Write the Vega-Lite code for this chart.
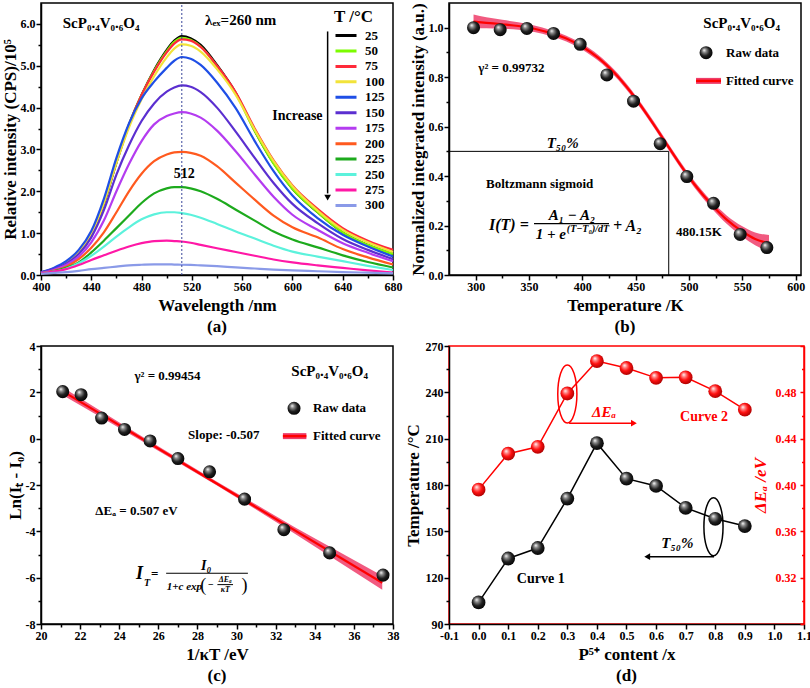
{
"$schema": "https://vega.github.io/schema/vega-lite/v6.json",
"padding": {"left": 0, "top": 1, "right": 0, "bottom": 0},
"background": "white",
"bounds": "flush",
"columns": 2,
"spacing": {"row": 71, "column": 56},
"config": {
 "font": "Liberation Serif",
 "view": {"stroke": "black", "strokeWidth": 1.5},
 "axis": {"grid": false, "domainColor": "black", "domainWidth": 1.5, "tickColor": "black", "tickWidth": 1.5, "labelFont": "Liberation Serif", "labelFontSize": 12, "labelFontWeight": "bold", "labelColor": "black", "labelPadding": 1, "labelFlush": false, "labelOverlap": false, "titleFont": "Liberation Serif", "titleFontSize": 17, "titleFontWeight": "bold", "titleColor": "black"},
 "axisX": {"titlePadding": 5},
 "axisY": {"titlePadding": 1},
 "text": {"font": "Liberation Serif", "fontWeight": "bold", "fontSize": 13, "baseline": "middle", "color": "black"},
 "title": {"font": "Liberation Serif", "fontSize": 17, "fontWeight": "bold", "color": "black"}
},
"concat": [
{
 "width": 352, "height": 272,
 "title": {"text": "(a)", "orient": "bottom", "frame": "group", "anchor": "middle", "baseline": "top", "offset": 6},
 "encoding": {
  "x": {"field": "x", "type": "quantitative", "scale": {"domain": [400, 680], "nice": false, "zero": false}, "axis": {"title": "Wavelength /nm", "values": [400,420,440,460,480,500,520,540,560,580,600,620,640,660,680], "labelExpr": "datum.value % 40 === 0 ? datum.label : ''", "tickSize": {"condition": {"test": "datum.value % 40 !== 0", "value": 3}, "value": 5}}},
  "y": {"field": "y", "type": "quantitative", "scale": {"domain": [0, 6.5], "nice": false, "zero": false}, "axis": {"title": "Relative intensity (CPS)/10⁵", "values": [0,0.5,1,1.5,2,2.5,3,3.5,4,4.5,5,5.5,6], "labelExpr": "datum.value % 1 === 0 ? format(datum.value, '.1f') : ''", "tickSize": {"condition": {"test": "datum.value % 1 !== 0", "value": 3}, "value": 5}}}
 },
 "layer": [
  {"data": {"values": [
{"T":"25","x":400,"y":0.06},{"T":"25","x":410,"y":0.15},{"T":"25","x":420,"y":0.29},{"T":"25","x":430,"y":0.54},{"T":"25","x":440,"y":0.97},{"T":"25","x":450,"y":1.7},{"T":"25","x":460,"y":2.68},{"T":"25","x":470,"y":3.58},{"T":"25","x":480,"y":4.3},{"T":"25","x":490,"y":4.9},{"T":"25","x":500,"y":5.38},{"T":"25","x":506,"y":5.6},{"T":"25","x":512,"y":5.71},{"T":"25","x":519,"y":5.66},{"T":"25","x":527,"y":5.5},{"T":"25","x":540,"y":5.02},{"T":"25","x":555,"y":4.35},{"T":"25","x":570,"y":3.45},{"T":"25","x":585,"y":2.67},{"T":"25","x":600,"y":2.06},{"T":"25","x":620,"y":1.5},{"T":"25","x":640,"y":1.02},{"T":"25","x":660,"y":0.72},{"T":"25","x":680,"y":0.5},
{"T":"50","x":400,"y":0.06},{"T":"50","x":410,"y":0.15},{"T":"50","x":420,"y":0.29},{"T":"50","x":430,"y":0.54},{"T":"50","x":440,"y":0.98},{"T":"50","x":450,"y":1.72},{"T":"50","x":460,"y":2.7},{"T":"50","x":470,"y":3.6},{"T":"50","x":480,"y":4.3},{"T":"50","x":490,"y":4.88},{"T":"50","x":500,"y":5.35},{"T":"50","x":506,"y":5.57},{"T":"50","x":512,"y":5.67},{"T":"50","x":519,"y":5.62},{"T":"50","x":527,"y":5.46},{"T":"50","x":540,"y":4.99},{"T":"50","x":555,"y":4.33},{"T":"50","x":570,"y":3.44},{"T":"50","x":585,"y":2.66},{"T":"50","x":600,"y":2.06},{"T":"50","x":620,"y":1.5},{"T":"50","x":640,"y":1.02},{"T":"50","x":660,"y":0.72},{"T":"50","x":680,"y":0.5},
{"T":"75","x":400,"y":0.06},{"T":"75","x":410,"y":0.15},{"T":"75","x":420,"y":0.3},{"T":"75","x":430,"y":0.55},{"T":"75","x":440,"y":1.0},{"T":"75","x":450,"y":1.74},{"T":"75","x":460,"y":2.72},{"T":"75","x":470,"y":3.6},{"T":"75","x":480,"y":4.3},{"T":"75","x":490,"y":4.86},{"T":"75","x":500,"y":5.32},{"T":"75","x":506,"y":5.53},{"T":"75","x":512,"y":5.63},{"T":"75","x":519,"y":5.6},{"T":"75","x":527,"y":5.45},{"T":"75","x":540,"y":5.0},{"T":"75","x":555,"y":4.36},{"T":"75","x":570,"y":3.5},{"T":"75","x":585,"y":2.74},{"T":"75","x":600,"y":2.14},{"T":"75","x":620,"y":1.58},{"T":"75","x":640,"y":1.12},{"T":"75","x":660,"y":0.82},{"T":"75","x":680,"y":0.6},
{"T":"100","x":400,"y":0.06},{"T":"100","x":410,"y":0.15},{"T":"100","x":420,"y":0.3},{"T":"100","x":430,"y":0.55},{"T":"100","x":440,"y":0.99},{"T":"100","x":450,"y":1.72},{"T":"100","x":460,"y":2.68},{"T":"100","x":470,"y":3.53},{"T":"100","x":480,"y":4.2},{"T":"100","x":490,"y":4.75},{"T":"100","x":500,"y":5.2},{"T":"100","x":506,"y":5.41},{"T":"100","x":512,"y":5.51},{"T":"100","x":519,"y":5.48},{"T":"100","x":527,"y":5.34},{"T":"100","x":540,"y":4.92},{"T":"100","x":555,"y":4.3},{"T":"100","x":570,"y":3.47},{"T":"100","x":585,"y":2.72},{"T":"100","x":600,"y":2.12},{"T":"100","x":620,"y":1.54},{"T":"100","x":640,"y":1.08},{"T":"100","x":660,"y":0.78},{"T":"100","x":680,"y":0.55},
{"T":"125","x":400,"y":0.07},{"T":"125","x":410,"y":0.17},{"T":"125","x":420,"y":0.33},{"T":"125","x":430,"y":0.6},{"T":"125","x":440,"y":1.05},{"T":"125","x":450,"y":1.82},{"T":"125","x":460,"y":2.8},{"T":"125","x":470,"y":3.62},{"T":"125","x":480,"y":4.22},{"T":"125","x":490,"y":4.62},{"T":"125","x":500,"y":4.95},{"T":"125","x":506,"y":5.12},{"T":"125","x":512,"y":5.21},{"T":"125","x":519,"y":5.17},{"T":"125","x":527,"y":5.02},{"T":"125","x":540,"y":4.6},{"T":"125","x":555,"y":3.98},{"T":"125","x":570,"y":3.2},{"T":"125","x":585,"y":2.48},{"T":"125","x":600,"y":1.9},{"T":"125","x":620,"y":1.36},{"T":"125","x":640,"y":0.96},{"T":"125","x":660,"y":0.68},{"T":"125","x":680,"y":0.44},
{"T":"150","x":400,"y":0.06},{"T":"150","x":410,"y":0.14},{"T":"150","x":420,"y":0.27},{"T":"150","x":430,"y":0.5},{"T":"150","x":440,"y":0.9},{"T":"150","x":450,"y":1.55},{"T":"150","x":460,"y":2.4},{"T":"150","x":470,"y":3.1},{"T":"150","x":480,"y":3.68},{"T":"150","x":490,"y":4.1},{"T":"150","x":500,"y":4.38},{"T":"150","x":506,"y":4.48},{"T":"150","x":512,"y":4.53},{"T":"150","x":519,"y":4.5},{"T":"150","x":527,"y":4.37},{"T":"150","x":540,"y":4.0},{"T":"150","x":555,"y":3.42},{"T":"150","x":570,"y":2.8},{"T":"150","x":585,"y":2.2},{"T":"150","x":600,"y":1.7},{"T":"150","x":620,"y":1.24},{"T":"150","x":640,"y":0.86},{"T":"150","x":660,"y":0.6},{"T":"150","x":680,"y":0.38},
{"T":"175","x":400,"y":0.05},{"T":"175","x":410,"y":0.12},{"T":"175","x":420,"y":0.24},{"T":"175","x":430,"y":0.44},{"T":"175","x":440,"y":0.78},{"T":"175","x":450,"y":1.3},{"T":"175","x":460,"y":2.0},{"T":"175","x":470,"y":2.65},{"T":"175","x":480,"y":3.2},{"T":"175","x":490,"y":3.6},{"T":"175","x":500,"y":3.8},{"T":"175","x":506,"y":3.86},{"T":"175","x":512,"y":3.89},{"T":"175","x":519,"y":3.86},{"T":"175","x":527,"y":3.76},{"T":"175","x":540,"y":3.45},{"T":"175","x":555,"y":2.95},{"T":"175","x":570,"y":2.4},{"T":"175","x":585,"y":1.87},{"T":"175","x":600,"y":1.44},{"T":"175","x":620,"y":1.08},{"T":"175","x":640,"y":0.76},{"T":"175","x":660,"y":0.53},{"T":"175","x":680,"y":0.33},
{"T":"200","x":400,"y":0.04},{"T":"200","x":410,"y":0.1},{"T":"200","x":420,"y":0.2},{"T":"200","x":430,"y":0.38},{"T":"200","x":440,"y":0.65},{"T":"200","x":450,"y":1.02},{"T":"200","x":460,"y":1.5},{"T":"200","x":470,"y":2.0},{"T":"200","x":480,"y":2.42},{"T":"200","x":490,"y":2.72},{"T":"200","x":500,"y":2.88},{"T":"200","x":506,"y":2.93},{"T":"200","x":512,"y":2.94},{"T":"200","x":519,"y":2.92},{"T":"200","x":527,"y":2.85},{"T":"200","x":540,"y":2.6},{"T":"200","x":555,"y":2.2},{"T":"200","x":570,"y":1.8},{"T":"200","x":585,"y":1.42},{"T":"200","x":600,"y":1.14},{"T":"200","x":620,"y":0.9},{"T":"200","x":640,"y":0.62},{"T":"200","x":660,"y":0.42},{"T":"200","x":680,"y":0.25},
{"T":"225","x":400,"y":0.04},{"T":"225","x":410,"y":0.09},{"T":"225","x":420,"y":0.17},{"T":"225","x":430,"y":0.3},{"T":"225","x":440,"y":0.54},{"T":"225","x":450,"y":0.82},{"T":"225","x":460,"y":1.12},{"T":"225","x":470,"y":1.42},{"T":"225","x":480,"y":1.72},{"T":"225","x":490,"y":1.95},{"T":"225","x":500,"y":2.07},{"T":"225","x":506,"y":2.1},{"T":"225","x":512,"y":2.1},{"T":"225","x":519,"y":2.07},{"T":"225","x":527,"y":2.0},{"T":"225","x":540,"y":1.82},{"T":"225","x":555,"y":1.56},{"T":"225","x":570,"y":1.3},{"T":"225","x":585,"y":1.04},{"T":"225","x":600,"y":0.85},{"T":"225","x":620,"y":0.66},{"T":"225","x":640,"y":0.47},{"T":"225","x":660,"y":0.31},{"T":"225","x":680,"y":0.18},
{"T":"250","x":400,"y":0.04},{"T":"250","x":410,"y":0.08},{"T":"250","x":420,"y":0.15},{"T":"250","x":430,"y":0.28},{"T":"250","x":440,"y":0.46},{"T":"250","x":450,"y":0.68},{"T":"250","x":460,"y":0.92},{"T":"250","x":470,"y":1.14},{"T":"250","x":480,"y":1.33},{"T":"250","x":490,"y":1.45},{"T":"250","x":500,"y":1.5},{"T":"250","x":506,"y":1.5},{"T":"250","x":512,"y":1.48},{"T":"250","x":519,"y":1.44},{"T":"250","x":527,"y":1.37},{"T":"250","x":540,"y":1.22},{"T":"250","x":555,"y":1.04},{"T":"250","x":570,"y":0.87},{"T":"250","x":585,"y":0.7},{"T":"250","x":600,"y":0.56},{"T":"250","x":620,"y":0.44},{"T":"250","x":640,"y":0.33},{"T":"250","x":660,"y":0.22},{"T":"250","x":680,"y":0.12},
{"T":"275","x":400,"y":0.04},{"T":"275","x":410,"y":0.08},{"T":"275","x":420,"y":0.14},{"T":"275","x":430,"y":0.24},{"T":"275","x":440,"y":0.36},{"T":"275","x":450,"y":0.47},{"T":"275","x":460,"y":0.58},{"T":"275","x":470,"y":0.68},{"T":"275","x":480,"y":0.76},{"T":"275","x":490,"y":0.81},{"T":"275","x":500,"y":0.82},{"T":"275","x":506,"y":0.81},{"T":"275","x":512,"y":0.8},{"T":"275","x":519,"y":0.77},{"T":"275","x":527,"y":0.72},{"T":"275","x":540,"y":0.64},{"T":"275","x":555,"y":0.55},{"T":"275","x":570,"y":0.46},{"T":"275","x":585,"y":0.37},{"T":"275","x":600,"y":0.3},{"T":"275","x":620,"y":0.23},{"T":"275","x":640,"y":0.17},{"T":"275","x":660,"y":0.11},{"T":"275","x":680,"y":0.06},
{"T":"300","x":400,"y":0.03},{"T":"300","x":410,"y":0.05},{"T":"300","x":420,"y":0.07},{"T":"300","x":430,"y":0.1},{"T":"300","x":440,"y":0.14},{"T":"300","x":450,"y":0.17},{"T":"300","x":460,"y":0.2},{"T":"300","x":470,"y":0.23},{"T":"300","x":480,"y":0.245},{"T":"300","x":490,"y":0.255},{"T":"300","x":500,"y":0.255},{"T":"300","x":506,"y":0.25},{"T":"300","x":512,"y":0.245},{"T":"300","x":519,"y":0.24},{"T":"300","x":527,"y":0.23},{"T":"300","x":540,"y":0.21},{"T":"300","x":555,"y":0.18},{"T":"300","x":570,"y":0.155},{"T":"300","x":585,"y":0.13},{"T":"300","x":600,"y":0.11},{"T":"300","x":620,"y":0.09},{"T":"300","x":640,"y":0.07},{"T":"300","x":660,"y":0.055},{"T":"300","x":680,"y":0.04}
  ]},
   "mark": {"type": "line", "strokeWidth": 2.2, "interpolate": "monotone"},
   "encoding": {"color": {"field": "T", "type": "nominal",
     "scale": {"domain": ["25","50","75","100","125","150","175","200","225","250","275","300"], "range": ["#000000","#7cfc00","#ff2a3a","#f2e33a","#1f4fe6","#5b2fd0","#b43cf0","#ff5a1f","#1daa1d","#5cf2dc","#ff18a6","#8a9ae8"]},
     "legend": {"orient": "none", "legendX": 293, "legendY": 6, "title": "T /°C", "titleFont": "Liberation Serif", "titleFontSize": 17, "titleFontWeight": "bold", "titleColor": "black", "titleAnchor": "start", "titlePadding": 3, "labelFont": "Liberation Serif", "labelFontSize": 13, "labelFontWeight": "bold", "labelColor": "black", "labelOffset": 7, "symbolType": "stroke", "symbolSize": 441, "symbolStrokeWidth": 3, "clipHeight": 13, "rowPadding": 1.45, "padding": 0, "offset": 0}}}
  },
  {"data": {"values": [{"x": 512, "y": 0, "y2": 6.5}]}, "mark": {"type": "rule", "color": "#39479b", "strokeWidth": 1, "strokeDash": [2, 2]}, "encoding": {"y2": {"field": "y2"}}},
  {"data": {"values": [{"x": 628, "y": 5.82, "y2": 1.95}]}, "mark": {"type": "rule", "color": "black", "strokeWidth": 1.5}, "encoding": {"y2": {"field": "y2"}}},
  {"data": {"values": [{"x": 628, "y": 1.85}]}, "mark": {"type": "point", "shape": "triangle-down", "filled": true, "color": "black", "size": 45, "opacity": 1}},
  {"data": {"values": [{"x": 417.3, "y": 6.02, "t": "ScP₀.₄V₀.₆O₄"}, {"x": 530.5, "y": 6.09, "t": "λₑₓ=260 nm"}]}, "mark": {"type": "text", "align": "left", "fontSize": 15}, "encoding": {"text": {"field": "t"}}},
  {"data": {"values": [{"x": 514, "y": 2.41, "t": "512"}]}, "mark": {"type": "text", "align": "center", "fontSize": 14}, "encoding": {"text": {"field": "t"}}},
  {"data": {"values": [{"x": 624, "y": 3.81, "t": "Increase"}]}, "mark": {"type": "text", "align": "right", "fontSize": 14}, "encoding": {"text": {"field": "t"}}}
 ]
},
{
 "width": 352, "height": 272,
 "title": {"text": "(b)", "orient": "bottom", "frame": "group", "anchor": "middle", "baseline": "top", "offset": 6},
 "encoding": {
  "x": {"field": "x", "type": "quantitative", "scale": {"domain": [275, 605], "nice": false, "zero": false}, "axis": {"title": "Temperature /K", "values": [300,325,350,375,400,425,450,475,500,525,550,575,600], "labelExpr": "datum.value % 50 === 0 ? datum.label : ''", "tickSize": {"condition": {"test": "datum.value % 50 !== 0", "value": 3}, "value": 5}}},
  "y": {"field": "y", "type": "quantitative", "scale": {"domain": [0, 1.1], "nice": false, "zero": false}, "axis": {"title": "Normalized integrated intensity (a.u.)", "values": [0,0.1,0.2,0.3,0.4,0.5,0.6,0.7,0.8,0.9,1.0], "labelExpr": "round(datum.value*10) % 2 === 0 ? format(datum.value, '.1f') : ''", "tickSize": {"condition": {"test": "round(datum.value*10) % 2 !== 0", "value": 3}, "value": 5}}}
 },
 "layer": [
  {"data": {"values": [
   {"x":298,"y":0.997,"y2":1.053},{"x":310,"y":0.998,"y2":1.042},{"x":325,"y":0.996,"y2":1.032},{"x":340,"y":0.992,"y2":1.022},{"x":355,"y":0.983,"y2":1.009},{"x":370,"y":0.967,"y2":0.991},{"x":385,"y":0.944,"y2":0.968},{"x":400,"y":0.911,"y2":0.935},{"x":415,"y":0.866,"y2":0.890},{"x":430,"y":0.806,"y2":0.830},{"x":445,"y":0.730,"y2":0.754},{"x":460,"y":0.641,"y2":0.665},{"x":475,"y":0.544,"y2":0.568},{"x":490,"y":0.446,"y2":0.470},{"x":505,"y":0.354,"y2":0.380},{"x":520,"y":0.276,"y2":0.304},{"x":535,"y":0.208,"y2":0.242},{"x":550,"y":0.155,"y2":0.197},{"x":562,"y":0.120,"y2":0.172},{"x":575,"y":0.094,"y2":0.162}
  ]}, "mark": {"type": "area", "color": "#ee3d6a", "opacity": 0.85, "interpolate": "monotone"}, "encoding": {"y2": {"field": "y2"}}},
  {"data": {"values": [
   {"x":298,"y":1.025},{"x":310,"y":1.02},{"x":325,"y":1.014},{"x":340,"y":1.007},{"x":355,"y":0.996},{"x":370,"y":0.979},{"x":385,"y":0.956},{"x":400,"y":0.923},{"x":415,"y":0.878},{"x":430,"y":0.818},{"x":445,"y":0.742},{"x":460,"y":0.653},{"x":475,"y":0.556},{"x":490,"y":0.458},{"x":505,"y":0.367},{"x":520,"y":0.29},{"x":535,"y":0.225},{"x":550,"y":0.176},{"x":562,"y":0.146},{"x":575,"y":0.128}
  ]}, "mark": {"type": "line", "color": "#ff0000", "strokeWidth": 2.2, "interpolate": "monotone"}},
  {"data": {"values": [{"x": 275, "y": 0.5, "x2": 481, "y2": 0.5}, {"x": 481, "y": 0.5, "x2": 481, "y2": 0}]}, "mark": {"type": "rule", "color": "black", "strokeWidth": 1}, "encoding": {"x2": {"field": "x2"}, "y2": {"field": "y2"}}},
  {"data": {"values": [
   {"x":298,"y":1.0},{"x":323,"y":0.992},{"x":348,"y":0.997},{"x":373,"y":0.977},{"x":398,"y":0.933},{"x":423,"y":0.809},{"x":448,"y":0.703},{"x":473,"y":0.531},{"x":498,"y":0.398},{"x":523,"y":0.29},{"x":548,"y":0.164},{"x":573,"y":0.111}
  ]}, "mark": {"type": "point", "filled": true, "size": 170, "opacity": 1, "strokeWidth": 0, "fill": {"gradient": "radial", "x1": 0.35, "y1": 0.3, "r1": 0, "x2": 0.45, "y2": 0.45, "r2": 0.6, "stops": [{"offset": 0, "color": "#ffffff"}, {"offset": 0.25, "color": "#8a8a8a"}, {"offset": 0.6, "color": "#202020"}, {"offset": 1, "color": "#000000"}]}}},
  {"data": {"values": [{"x": 516, "y": 0.899}]}, "mark": {"type": "point", "filled": true, "size": 170, "opacity": 1, "strokeWidth": 0, "fill": {"gradient": "radial", "x1": 0.35, "y1": 0.3, "r1": 0, "x2": 0.45, "y2": 0.45, "r2": 0.6, "stops": [{"offset": 0, "color": "#ffffff"}, {"offset": 0.25, "color": "#8a8a8a"}, {"offset": 0.6, "color": "#202020"}, {"offset": 1, "color": "#000000"}]}}},
  {"data": {"values": [{"x": 506.6, "x2": 530, "y": 0.785}]}, "mark": {"type": "rule", "color": "#ee3d6a", "strokeWidth": 6}, "encoding": {"x2": {"field": "x2"}}},
  {"data": {"values": [{"x": 506.6, "x2": 530, "y": 0.785}]}, "mark": {"type": "rule", "color": "#ff0000", "strokeWidth": 2.5}, "encoding": {"x2": {"field": "x2"}}},
  {"data": {"values": [{"x": 534.7, "y": 0.899, "t": "Raw data"}, {"x": 534.7, "y": 0.785, "t": "Fitted curve"}, {"x": 302.5, "y": 0.838, "t": "γ² = 0.99732"}, {"x": 487.8, "y": 0.175, "t": "480.15K"}]}, "mark": {"type": "text", "align": "left", "fontSize": 13}, "encoding": {"text": {"field": "t"}}},
  {"data": {"values": [{"x": 360, "y": 0.369, "t": "Boltzmann sigmoid"}]}, "mark": {"type": "text", "align": "center", "fontSize": 13}, "encoding": {"text": {"field": "t"}}},
  {"data": {"values": [{"x": 549.4, "y": 1.02, "t": "ScP₀.₄V₀.₆O₄"}]}, "mark": {"type": "text", "align": "center", "fontSize": 15}, "encoding": {"text": {"field": "t"}}},
  {"data": {"values": [{"x": 381.6, "y": 0.535, "t": "T₅₀%"}]}, "mark": {"type": "text", "align": "center", "fontSize": 15, "fontStyle": "italic"}, "encoding": {"text": {"field": "t"}}},
  {"data": {"values": [{"x": 312.5, "y": 0.2023, "t": "I(T) ="}, {"x": 428.7, "y": 0.198, "t": "+ A₂"}]}, "mark": {"type": "text", "align": "left", "fontSize": 16, "fontStyle": "italic"}, "encoding": {"text": {"field": "t"}}},
  {"data": {"values": [{"x": 390.3, "y": 0.2427, "t": "A₁ − A₂"}]}, "mark": {"type": "text", "align": "center", "fontSize": 15, "fontStyle": "italic"}, "encoding": {"text": {"field": "t"}}},
  {"data": {"values": [{"x": 384.7, "y": 0.1671, "t": "1 + e"}]}, "mark": {"type": "text", "align": "right", "fontSize": 15, "fontStyle": "italic"}, "encoding": {"text": {"field": "t"}}},
  {"data": {"values": [{"x": 385.5, "y": 0.187, "t": "(T−T₀)/dT"}]}, "mark": {"type": "text", "align": "left", "fontSize": 10, "fontStyle": "italic"}, "encoding": {"text": {"field": "t"}}},
  {"data": {"values": [{"x": 354.7, "x2": 425, "y": 0.2076}]}, "mark": {"type": "rule", "color": "black", "strokeWidth": 1.2}, "encoding": {"x2": {"field": "x2"}}}
 ]
},
{
 "width": 352, "height": 278,
 "title": {"text": "(c)", "orient": "bottom", "frame": "group", "anchor": "middle", "baseline": "top", "offset": 6},
 "encoding": {
  "x": {"field": "x", "type": "quantitative", "scale": {"domain": [20, 38], "nice": false, "zero": false}, "axis": {"title": "1/κT /eV", "values": [20,21,22,23,24,25,26,27,28,29,30,31,32,33,34,35,36,37,38], "labelExpr": "datum.value % 2 === 0 ? datum.label : ''", "tickSize": {"condition": {"test": "datum.value % 2 !== 0", "value": 3}, "value": 5}}},
  "y": {"field": "y", "type": "quantitative", "scale": {"domain": [-8, 4], "nice": false, "zero": false}, "axis": {"title": "Ln(Iₜ - I₀)", "values": [-8,-7,-6,-5,-4,-3,-2,-1,0,1,2,3,4], "labelExpr": "datum.value % 2 === 0 ? '' + datum.value : ''", "tickSize": {"condition": {"test": "datum.value % 2 !== 0", "value": 3}, "value": 5}}}
 },
 "layer": [
  {"data": {"values": [{"x":21.1,"y":1.88,"y2":2.22},{"x":25,"y":-0.02,"y2":0.18},{"x":29,"y":-2.02,"y2":-1.86},{"x":33,"y":-4.11,"y2":-3.83},{"x":37.45,"y":-6.52,"y2":-5.92}]}, "mark": {"type": "area", "color": "#ee3d6a", "opacity": 0.85}, "encoding": {"y2": {"field": "y2"}}},
  {"data": {"values": [{"x":21.1,"y":2.05},{"x":37.45,"y":-6.22}]}, "mark": {"type": "line", "color": "#ff0000", "strokeWidth": 2.2}},
  {"data": {"values": [
   {"x":21.11,"y":2.03},{"x":22.05,"y":1.9},{"x":23.1,"y":0.89},{"x":24.27,"y":0.4},{"x":25.58,"y":-0.1},{"x":27.0,"y":-0.86},{"x":28.62,"y":-1.43},{"x":30.41,"y":-2.61},{"x":32.42,"y":-3.93},{"x":34.76,"y":-4.93},{"x":37.49,"y":-5.89}
  ]}, "mark": {"type": "point", "filled": true, "size": 170, "opacity": 1, "strokeWidth": 0, "fill": {"gradient": "radial", "x1": 0.35, "y1": 0.3, "r1": 0, "x2": 0.45, "y2": 0.45, "r2": 0.6, "stops": [{"offset": 0, "color": "#ffffff"}, {"offset": 0.25, "color": "#8a8a8a"}, {"offset": 0.6, "color": "#202020"}, {"offset": 1, "color": "#000000"}]}}},
  {"data": {"values": [{"x": 32.94, "y": 1.31}]}, "mark": {"type": "point", "filled": true, "size": 170, "opacity": 1, "strokeWidth": 0, "fill": {"gradient": "radial", "x1": 0.35, "y1": 0.3, "r1": 0, "x2": 0.45, "y2": 0.45, "r2": 0.6, "stops": [{"offset": 0, "color": "#ffffff"}, {"offset": 0.25, "color": "#8a8a8a"}, {"offset": 0.6, "color": "#202020"}, {"offset": 1, "color": "#000000"}]}}},
  {"data": {"values": [{"x": 32.37, "x2": 33.57, "y": 0.11}]}, "mark": {"type": "rule", "color": "#ee3d6a", "strokeWidth": 6}, "encoding": {"x2": {"field": "x2"}}},
  {"data": {"values": [{"x": 32.37, "x2": 33.57, "y": 0.11}]}, "mark": {"type": "rule", "color": "#ff0000", "strokeWidth": 2.5}, "encoding": {"x2": {"field": "x2"}}},
  {"data": {"values": [{"x": 24.78, "y": 2.71, "t": "γ² = 0.99454"}, {"x": 33.91, "y": 1.31, "t": "Raw data"}, {"x": 33.91, "y": 0.11, "t": "Fitted curve"}, {"x": 22.78, "y": -3.14, "t": "ΔEₐ = 0.507 eV"}, {"x": 25.62, "y": -5.86, "t": "="}]}, "mark": {"type": "text", "align": "left", "fontSize": 13}, "encoding": {"text": {"field": "t"}}},
  {"data": {"values": [{"x": 29.35, "y": 0.14, "t": "Slope: -0.507"}]}, "mark": {"type": "text", "align": "center", "fontSize": 13}, "encoding": {"text": {"field": "t"}}},
  {"data": {"values": [{"x": 34.76, "y": 2.93, "t": "ScP₀.₄V₀.₆O₄"}]}, "mark": {"type": "text", "align": "center", "fontSize": 15}, "encoding": {"text": {"field": "t"}}},
  {"data": {"values": [{"x": 24.86, "y": -5.86, "t": "I"}]}, "mark": {"type": "text", "align": "left", "fontSize": 18, "fontStyle": "italic"}, "encoding": {"text": {"field": "t"}}},
  {"data": {"values": [{"x": 25.27, "y": -6.22, "t": "T"}]}, "mark": {"type": "text", "align": "left", "fontSize": 10, "fontStyle": "italic"}, "encoding": {"text": {"field": "t"}}},
  {"data": {"values": [{"x": 28.45, "y": -5.5, "t": "I₀"}]}, "mark": {"type": "text", "align": "center", "fontSize": 14, "fontStyle": "italic"}, "encoding": {"text": {"field": "t"}}},
  {"data": {"values": [{"x": 26.43, "y": -6.4, "t": "1+c exp"}]}, "mark": {"type": "text", "align": "left", "fontSize": 11, "fontStyle": "italic"}, "encoding": {"text": {"field": "t"}}},
  {"data": {"values": [{"x": 28.3, "y": -6.34, "t": "("}, {"x": 30.4, "y": -6.34, "t": ")"}]}, "mark": {"type": "text", "align": "center", "fontSize": 18, "fontWeight": "normal"}, "encoding": {"text": {"field": "t"}}},
  {"data": {"values": [{"x": 28.68, "y": -6.3, "t": "−"}]}, "mark": {"type": "text", "align": "center", "fontSize": 10}, "encoding": {"text": {"field": "t"}}},
  {"data": {"values": [{"x": 29.42, "y": -6.1, "t": "ΔEₐ"}, {"x": 29.42, "y": -6.54, "t": "κT"}]}, "mark": {"type": "text", "align": "center", "fontSize": 8, "fontStyle": "italic"}, "encoding": {"text": {"field": "t"}}},
  {"data": {"values": [{"x": 26.4, "x2": 30.58, "y": -5.81}, {"x": 29.02, "x2": 29.82, "y": -6.3}]}, "mark": {"type": "rule", "color": "black", "strokeWidth": 1}, "encoding": {"x2": {"field": "x2"}}}
 ]
},
{
 "width": 355, "height": 278,
 "title": {"text": "(d)", "orient": "bottom", "frame": "group", "anchor": "middle", "baseline": "top", "offset": 6},
 "view": {"stroke": "#ff0000", "strokeWidth": 1.5},
 "encoding": {
  "x": {"field": "x", "type": "quantitative", "scale": {"domain": [-0.1, 1.1], "nice": false, "zero": false}, "axis": {"title": "P⁵⁺ content /x", "values": [-0.1,0,0.1,0.2,0.3,0.4,0.5,0.6,0.7,0.8,0.9,1.0,1.1], "labelExpr": "replace(format(datum.value, '.1f'), '−', '-')", "tickSize": 5}}
 },
 "layer": [
  {
   "data": {"values": [{"x":0,"y":104},{"x":0.1,"y":132.4},{"x":0.2,"y":139.2},{"x":0.3,"y":171.2},{"x":0.4,"y":207.1},{"x":0.5,"y":184.1},{"x":0.6,"y":179.4},{"x":0.7,"y":165.2},{"x":0.8,"y":158.1},{"x":0.9,"y":153.4}]},
   "encoding": {"y": {"field": "y", "type": "quantitative", "scale": {"domain": [90, 270], "nice": false, "zero": false}, "axis": {"title": "Temperature /°C", "titlePadding": 3, "values": [90,105,120,135,150,165,180,195,210,225,240,255,270], "labelExpr": "datum.value % 30 === 0 ? datum.label : ''", "tickSize": {"condition": {"test": "datum.value % 30 !== 0", "value": 3}, "value": 5}}}},
   "layer": [
    {"mark": {"type": "line", "color": "black", "strokeWidth": 1.5}},
    {"mark": {"type": "point", "filled": true, "size": 190, "opacity": 1, "strokeWidth": 0, "fill": {"gradient": "radial", "x1": 0.35, "y1": 0.3, "r1": 0, "x2": 0.45, "y2": 0.45, "r2": 0.6, "stops": [{"offset": 0, "color": "#ffffff"}, {"offset": 0.25, "color": "#8a8a8a"}, {"offset": 0.6, "color": "#202020"}, {"offset": 1, "color": "#000000"}]}}},
    {"data": {"values": [{"x": 0.3, "y": 238.9}]}, "mark": {"type": "point", "shape": "M0,-1C0.182,-1,0.33,-0.552,0.33,0C0.33,0.552,0.182,1,0,1C-0.182,1,-0.33,0.552,-0.33,0C-0.33,-0.552,-0.182,-1,0,-1Z", "size": 3364, "filled": false, "stroke": "#ff0000", "strokeWidth": 1.5, "opacity": 1}},
    {"data": {"values": [{"x": 0.794, "y": 153}]}, "mark": {"type": "point", "shape": "M0,-1C0.182,-1,0.33,-0.552,0.33,0C0.33,0.552,0.182,1,0,1C-0.182,1,-0.33,0.552,-0.33,0C-0.33,-0.552,-0.182,-1,0,-1Z", "size": 3364, "filled": false, "stroke": "black", "strokeWidth": 1.5, "opacity": 1}},
    {"data": {"values": [{"x": 0.306, "x2": 0.52, "y": 220}]}, "mark": {"type": "rule", "color": "#ff0000", "strokeWidth": 1.5}, "encoding": {"x2": {"field": "x2"}}},
    {"data": {"values": [{"x": 0.525, "y": 220}]}, "mark": {"type": "point", "shape": "triangle-right", "filled": true, "color": "#ff0000", "size": 45, "opacity": 1}},
    {"data": {"values": [{"x": 0.796, "x2": 0.575, "y": 133.6}]}, "mark": {"type": "rule", "color": "black", "strokeWidth": 1.5}, "encoding": {"x2": {"field": "x2"}}},
    {"data": {"values": [{"x": 0.57, "y": 133.6}]}, "mark": {"type": "point", "shape": "triangle-left", "filled": true, "color": "black", "size": 45, "opacity": 1}},
    {"data": {"values": [{"x": 0.21, "y": 119, "t": "Curve 1"}]}, "mark": {"type": "text", "align": "center", "fontSize": 14, "color": "black"}, "encoding": {"text": {"field": "t"}}},
    {"data": {"values": [{"x": 0.762, "y": 224.3, "t": "Curve 2"}]}, "mark": {"type": "text", "align": "center", "fontSize": 14, "color": "#ff0000"}, "encoding": {"text": {"field": "t"}}},
    {"data": {"values": [{"x": 0.672, "y": 142.7, "t": "T₅₀%"}]}, "mark": {"type": "text", "align": "center", "fontSize": 15, "fontStyle": "italic", "color": "black"}, "encoding": {"text": {"field": "t"}}},
    {"data": {"values": [{"x": 0.424, "y": 227.5, "t": "ΔEₐ"}]}, "mark": {"type": "text", "align": "center", "fontSize": 15, "fontStyle": "italic", "color": "#ff0000"}, "encoding": {"text": {"field": "t"}}}
   ]
  },
  {
   "data": {"values": [{"x":0,"y":0.396},{"x":0.1,"y":0.427},{"x":0.2,"y":0.433},{"x":0.3,"y":0.479},{"x":0.4,"y":0.507},{"x":0.5,"y":0.501},{"x":0.6,"y":0.4925},{"x":0.7,"y":0.493},{"x":0.8,"y":0.481},{"x":0.9,"y":0.465}]},
   "encoding": {"y": {"field": "y", "type": "quantitative", "scale": {"domain": [0.28, 0.52], "nice": false, "zero": false}, "axis": {"orient": "left", "offset": -355, "title": "ΔEₐ /eV", "titleColor": "#ff0000", "titleFontStyle": "italic", "labelColor": "#ff0000", "domainColor": "#ff0000", "tickColor": "#ff0000", "labelPadding": 4, "titlePadding": 6, "values": [0.28,0.3,0.32,0.34,0.36,0.38,0.4,0.42,0.44,0.46,0.48,0.5,0.52], "labelExpr": "indexof([0.32,0.36,0.4,0.44,0.48], datum.value) >= 0 ? format(datum.value, '.2f') : ''", "tickSize": {"condition": {"test": "indexof([0.28,0.32,0.36,0.4,0.44,0.48,0.52], datum.value) < 0", "value": 2.5}, "value": 4}}}},
   "layer": [
    {"mark": {"type": "line", "color": "#ff0000", "strokeWidth": 1.5}},
    {"mark": {"type": "point", "filled": true, "size": 190, "opacity": 1, "strokeWidth": 0, "fill": {"gradient": "radial", "x1": 0.35, "y1": 0.3, "r1": 0, "x2": 0.45, "y2": 0.45, "r2": 0.6, "stops": [{"offset": 0, "color": "#ffffff"}, {"offset": 0.25, "color": "#ff8080"}, {"offset": 0.55, "color": "#ff1010"}, {"offset": 1, "color": "#a00000"}]}}}
   ]
  }
 ],
 "resolve": {"scale": {"y": "independent"}, "axis": {"y": "independent"}}
}
]
}
